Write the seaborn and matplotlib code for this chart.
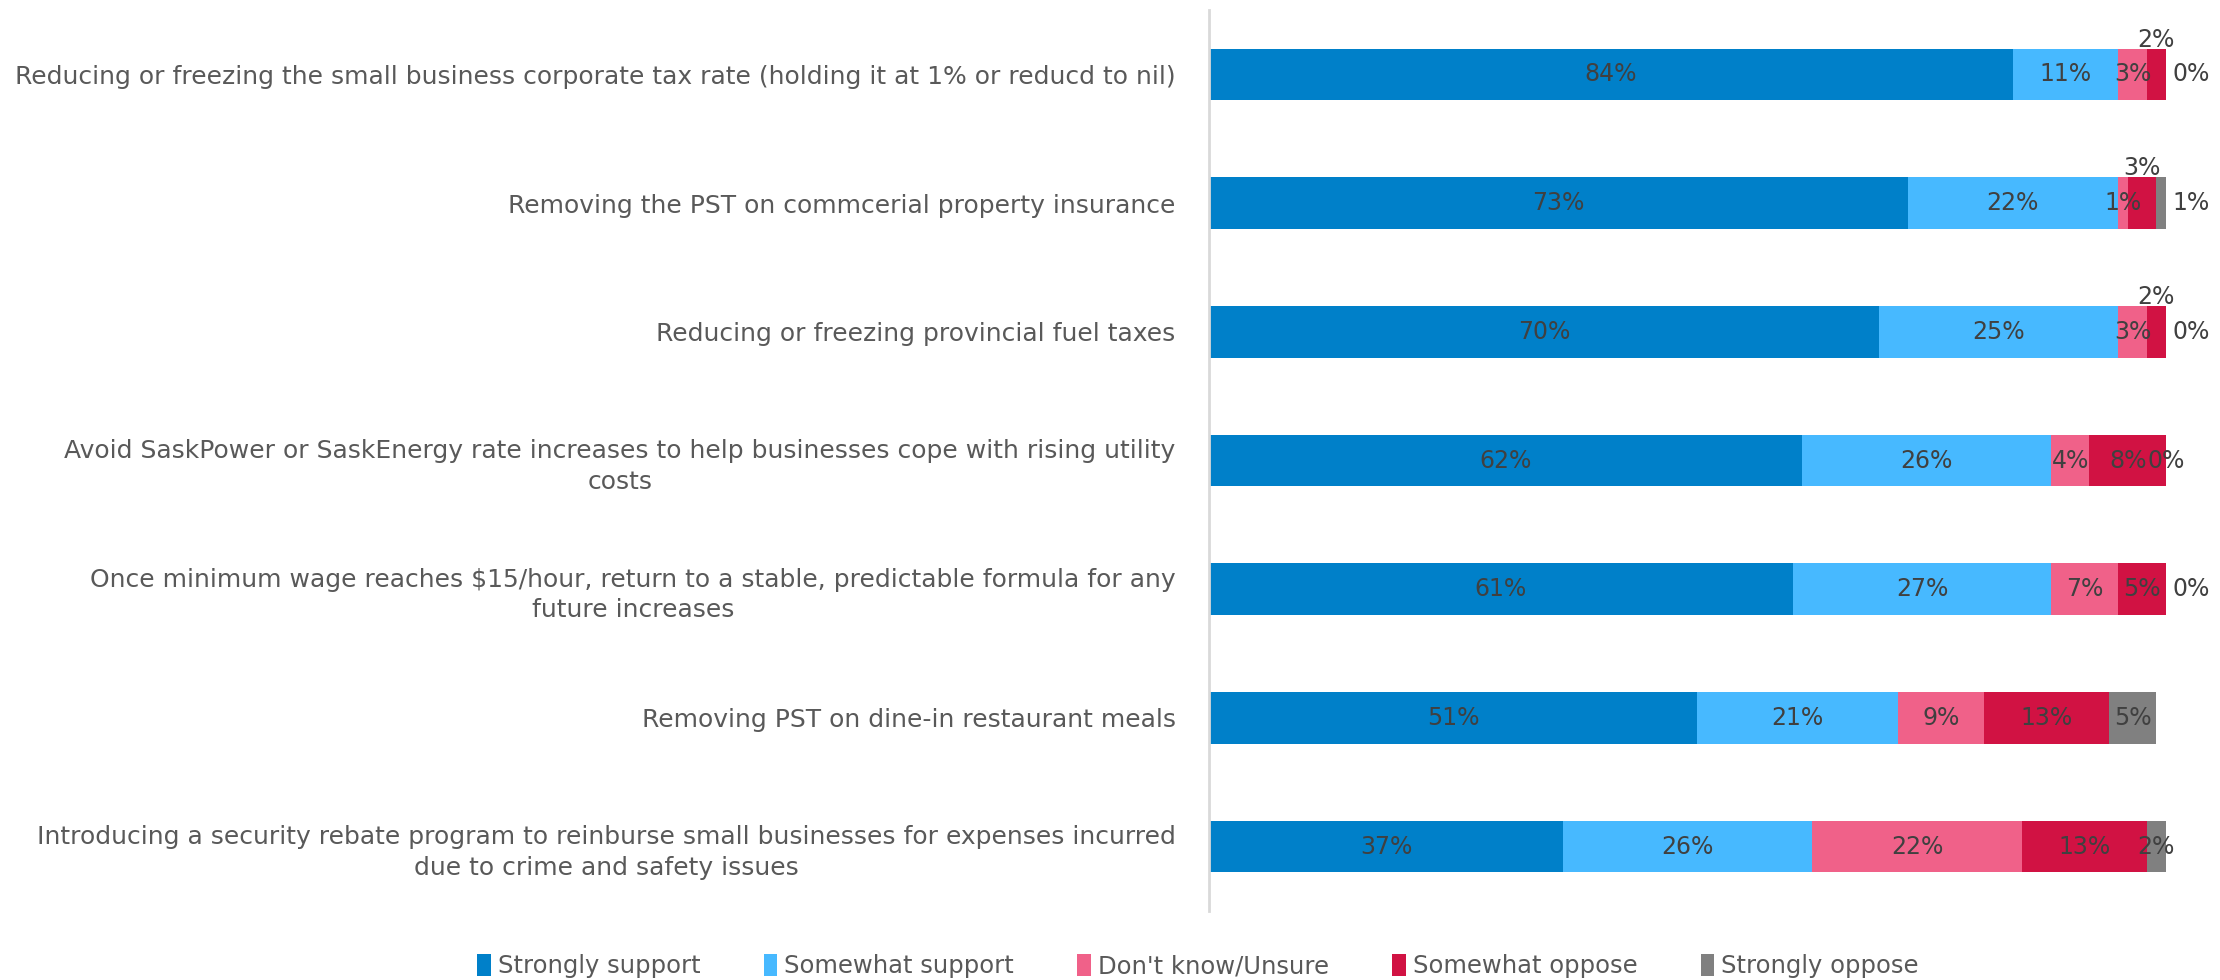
import matplotlib
matplotlib.use("Agg")
import matplotlib.pyplot as plt
import seaborn as sns
import numpy as np
import pandas as pd
from matplotlib.patches import Patch

categories = [
    "Reducing or freezing the small business corporate tax rate (holding it at 1% or reducd to nil)",
    "Removing the PST on commcerial property insurance",
    "Reducing or freezing provincial fuel taxes",
    "Avoid SaskPower or SaskEnergy rate increases to help businesses cope with rising utility\ncosts",
    "Once minimum wage reaches $15/hour, return to a stable, predictable formula for any\nfuture increases",
    "Removing PST on dine-in restaurant meals",
    "Introducing a security rebate program to reinburse small businesses for expenses incurred\ndue to crime and safety issues",
]
series_names = ["Strongly support", "Somewhat support", "Don't know/Unsure",
                "Somewhat oppose", "Strongly oppose"]
strongly_support = [84, 73, 70, 62, 61, 51, 37]
somewhat_support = [11, 22, 25, 26, 27, 21, 26]
dont_know = [3, 1, 3, 4, 7, 9, 22]
somewhat_oppose = [2, 3, 2, 8, 5, 13, 13]
strongly_oppose = [0, 1, 0, 0, 0, 5, 2]

colors = ["#0080C9", "#47B9FF", "#F06189", "#D11243", "#808080"]
text_color = "#595959"
label_color = "#404040"

sns.set_theme(style="white")
plt.rcParams["font.family"] = ["DejaVu Sans"]

fig = plt.figure(figsize=(22.2, 9.8), dpi=100)
ax = fig.add_axes([1209 / 2220, 1 - 911 / 980, (2166 - 1209) / 2220, (911 - 10) / 980])

series = [strongly_support, somewhat_support, dont_know, somewhat_oppose, strongly_oppose]
vals = np.array(series, dtype=float)
cum = np.cumsum(vals, axis=0)

# draw cumulative bars from the largest (total) to the smallest to get stacking
for i in range(len(series) - 1, -1, -1):
    df = pd.DataFrame({"cat": categories, "val": cum[i]})
    sns.barplot(data=df, x="val", y="cat", orient="h", color=colors[i],
                width=0.40, saturation=1, ax=ax, errorbar=None,
                linewidth=0, edgecolor="none")

ax.set_xlim(0, 100)
ax.set_ylim(len(categories) - 0.5, -0.5)
ax.set_xlabel("")
ax.set_ylabel("")
ax.set_xticks([])
ax.tick_params(axis="y", length=0, pad=24, labelsize=18, labelcolor=text_color)
for t in ax.get_yticklabels():
    t.set_multialignment("center")
    t.set_linespacing(1.35)
for s in ["top", "right", "bottom"]:
    ax.spines[s].set_visible(False)
ax.spines["left"].set_color("#D9D9D9")
ax.spines["left"].set_linewidth(2)

# data labels
fs = 17
for r in range(len(categories)):
    for i in range(len(series)):
        v = vals[i, r]
        left = cum[i, r] - v
        x = left + v / 2
        y = r
        if i == 4 and v == 0 and r == 3:
            x = cum[i, r]
        elif i == 4 and (v == 0 or v == 1) and r != 6:
            x = cum[i, r] + 2.6
        elif i == 3 and v <= 3:
            y = r - 0.27
        ax.text(x, y, f"{int(v)}%", ha="center", va="center", fontsize=fs,
                color=label_color, clip_on=False)

handles = [Patch(facecolor=c, edgecolor="none") for c in colors]
leg = fig.legend(handles, series_names, loc="center", ncol=5,
                 bbox_to_anchor=(1198 / 2220, 1 - 966 / 980), frameon=False,
                 fontsize=17.5, handlelength=0.55, handleheight=1.0,
                 handletextpad=0.3, columnspacing=2.6)
for t in leg.get_texts():
    t.set_color(text_color)

fig.savefig("out.png", dpi=100)
